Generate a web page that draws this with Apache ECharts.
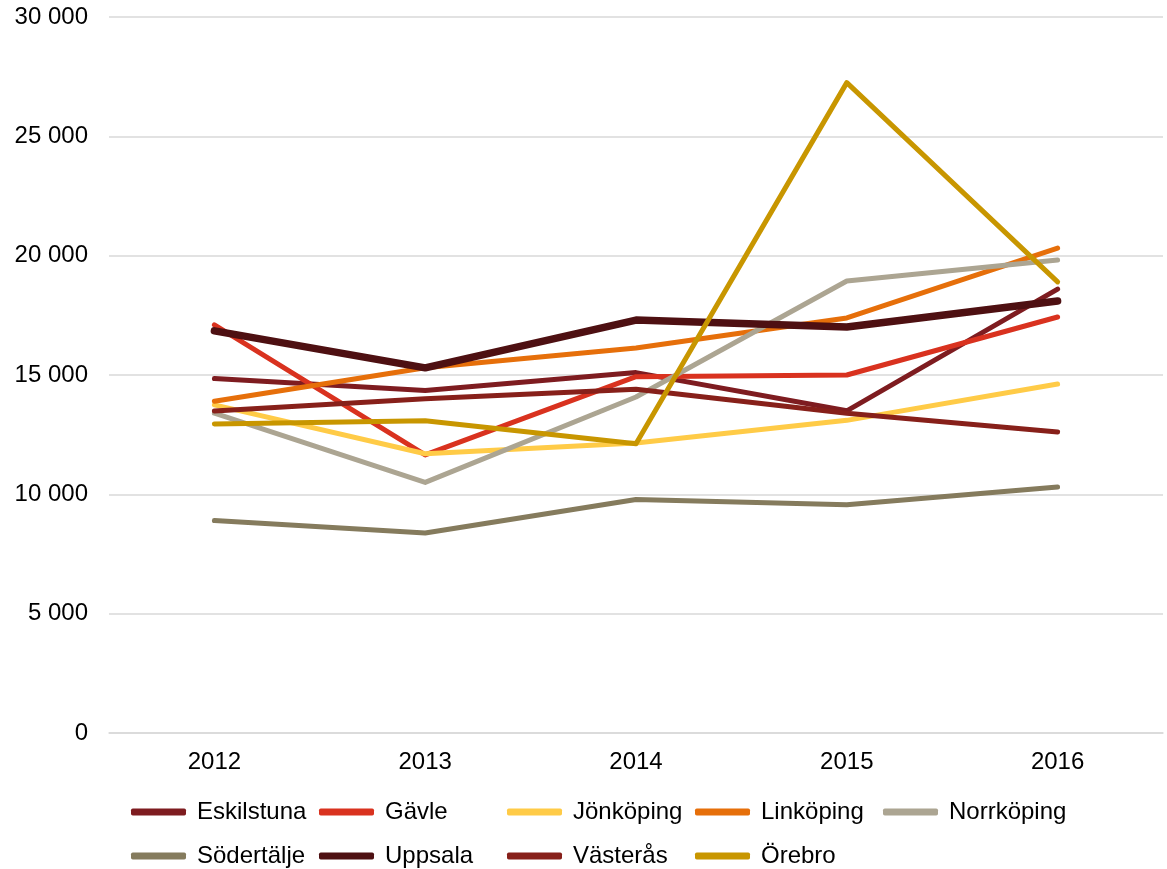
<!DOCTYPE html>
<html>
<head>
<meta charset="utf-8">
<script src="https://cdn.jsdelivr.net/npm/echarts@6/dist/echarts.min.js"></script>
<style>
  html, body { margin: 0; padding: 0; background: #fff; }
  #chart { width: 1167px; height: 869px; }
</style>
</head>
<body>
<div id="chart"></div>
<script>
// kategorier (år)
var years = ["2012", "2013", "2014", "2015", "2016"];

// värden per stad
var eskilstuna = [14850, 14350, 15100, 13500, 18600];
var gavle      = [17100, 11650, 14930, 15000, 17430];
var jonkoping  = [13750, 11700, 12150, 13100, 14620];
var linkoping  = [13900, 15300, 16130, 17390, 20320];
var norrkoping = [13400, 10500, 14080, 18940, 19820];
var sodertalje = [8900, 8380, 9780, 9560, 10310];
var uppsala    = [16850, 15300, 17300, 17010, 18100];
var vasteras   = [13490, 14000, 14400, 13400, 12610];
var orebro     = [12950, 13080, 12120, 27250, 18900];

var names = ["Eskilstuna", "Gävle", "Jönköping", "Linköping", "Norrköping",
             "Södertälje", "Uppsala", "Västerås", "Örebro"];
var values = [eskilstuna, gavle, jonkoping, linkoping, norrkoping,
              sodertalje, uppsala, vasteras, orebro];
var colors = ["#7e1c20", "#d9321f", "#ffcb47", "#e66f0a", "#aca592",
              "#857b5d", "#4e1012", "#87201a", "#c89600"];

const font = "Liberation Sans, Arial, sans-serif";

function tusen(v) {
  return String(v).replace(/\B(?=(\d{3})+(?!\d))/g, " ");
}

const chart = echarts.init(document.getElementById("chart"));
chart.setOption({
  animation: false,
  color: colors,
  grid: {
    left: 109,
    right: 4,
    top: 17,
    bottom: 136
  },
  legend: {
    left: 126,
    top: 790,
    width: 960,
    icon: "roundRect",
    itemWidth: 55,
    itemHeight: 7,
    itemGap: 10,
    textStyle: {
      fontFamily: font,
      fontSize: 24,
      color: "#000",
      width: 112,
      lineHeight: 34,
      padding: [0, 0, 0, 6]
    },
    data: names
  },
  xAxis: {
    type: "category",
    data: years,
    boundaryGap: true,
    axisTick: { show: false },
    axisLine: { lineStyle: { color: "#d9d9d9", width: 1.5 } },
    axisLabel: {
      fontFamily: font,
      fontSize: 24,
      color: "#000",
      margin: 17
    }
  },
  yAxis: {
    type: "value",
    min: 0,
    max: 30000,
    interval: 5000,
    axisLine: { show: false },
    axisTick: { show: false },
    axisLabel: {
      fontFamily: font,
      fontSize: 24,
      color: "#000",
      margin: 21,
      formatter: tusen
    },
    splitLine: { lineStyle: { color: "#d9d9d9", width: 1.5 } }
  },
  series: names.map(function (n, i) {
    return {
      name: n,
      type: "line",
      data: values[i],
      symbol: "none",
      lineStyle: {
        width: n === "Uppsala" ? 7.5 : 5,
        cap: "round",
        join: "round"
      }
    };
  })
});
</script>
</body>
</html>
